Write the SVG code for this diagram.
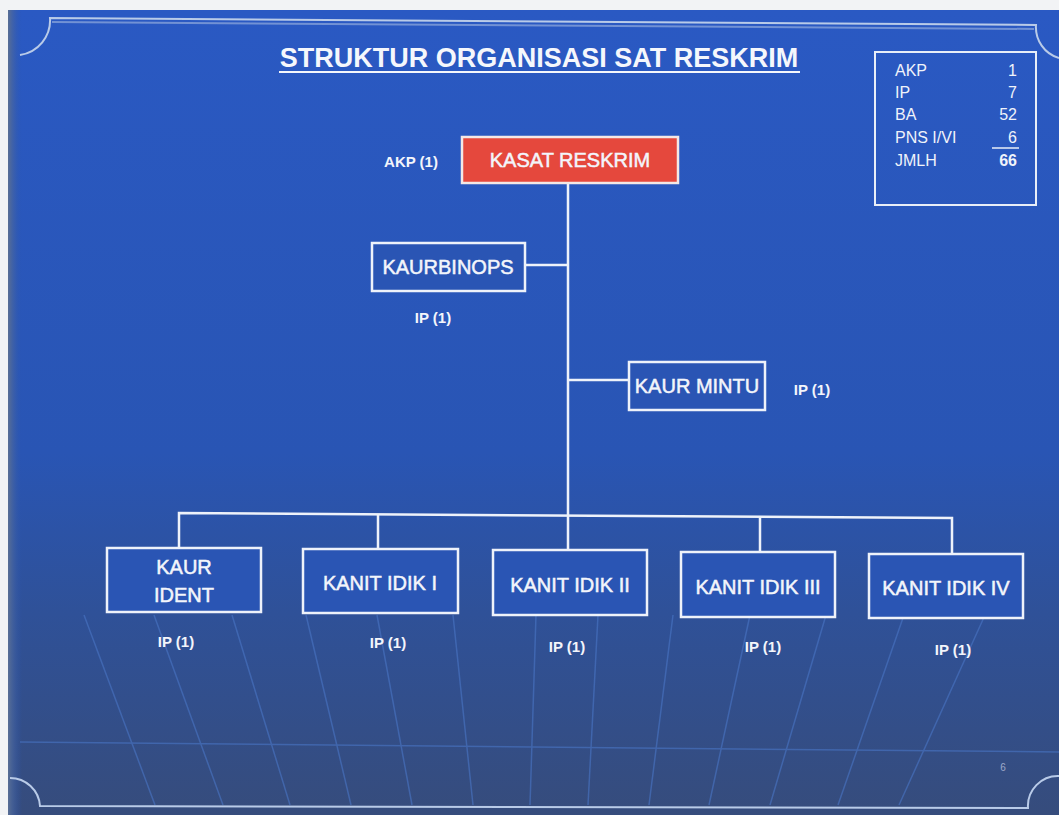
<svg xmlns="http://www.w3.org/2000/svg" width="1059" height="815" viewBox="0 0 1059 815">
<defs>
<linearGradient id="bg" x1="0" y1="0" x2="0" y2="1">
<stop offset="0" stop-color="#2a59c3"/>
<stop offset="0.55" stop-color="#2955b4"/>
<stop offset="0.75" stop-color="#2f5198"/>
<stop offset="1" stop-color="#364c7c"/>
</linearGradient>
<linearGradient id="edge" x1="0" y1="0" x2="1" y2="0">
<stop offset="0" stop-color="#5a6f94"/>
<stop offset="1" stop-color="#2a55b2" stop-opacity="0"/>
</linearGradient>
<style>
.box{fill:#2a55b4;stroke:#eef2fa;stroke-width:2.5}
.red{fill:#e5483d;stroke:#f4e8e6;stroke-width:2.5}
.lbl{font-family:"Liberation Sans",Arial,sans-serif;font-size:20px;fill:#f3f5fb;stroke:#f3f5fb;stroke-width:0.5;text-anchor:middle}
.rank{font-family:"Liberation Sans",Arial,sans-serif;font-size:15px;font-weight:bold;fill:#f3f5fb;text-anchor:middle}
.leg{font-family:"Liberation Sans",Arial,sans-serif;font-size:16px;fill:#f0f3fa}
.num{text-anchor:end}
.con{stroke:#eef2fa;stroke-width:2.5;fill:none}
.grid{stroke:#4a76c6;stroke-width:1.5;fill:none;opacity:0.6}
.frame{stroke:#b9cbe8;stroke-width:2;fill:none}
</style>
</defs>
<!-- background -->
<rect x="0" y="0" width="1059" height="815" fill="#f2f3f5"/>
<rect x="8" y="10" width="1051" height="805" fill="url(#bg)"/>
<rect x="8" y="10" width="14" height="805" fill="url(#edge)"/>
<!-- perspective grid -->
<g id="grid" class="grid">
<line x1="84" y1="615" x2="155" y2="805"/>
<line x1="154" y1="615" x2="223" y2="805"/>
<line x1="232" y1="615" x2="290" y2="805"/>
<line x1="306" y1="615" x2="351" y2="805"/>
<line x1="377" y1="615" x2="412" y2="805"/>
<line x1="453" y1="615" x2="473" y2="805"/>
<line x1="536" y1="615" x2="530" y2="805"/>
<line x1="598" y1="615" x2="588" y2="805"/>
<line x1="673" y1="615" x2="649" y2="805"/>
<line x1="750" y1="615" x2="709" y2="805"/>
<line x1="826" y1="615" x2="770" y2="805"/>
<line x1="904" y1="615" x2="838" y2="805"/>
<line x1="985" y1="615" x2="899" y2="805"/>
<line x1="20" y1="742" x2="1059" y2="752"/>
</g>
<!-- frame -->
<g id="frame">
<path class="frame" d="M20,55 A35,35 0 0 0 50,18 L1036,25 A32,32 0 0 0 1059,58"/>
<path class="frame" d="M52,22 L1034,29" stroke-opacity="0.5"/>
<path class="frame" d="M10,778 A30,30 0 0 1 40,806 L1028,808 A30,30 0 0 1 1059,776"/>
</g>
<!-- title -->
<g id="title">
<text x="539" y="67" font-family="'Liberation Sans',Arial,sans-serif" font-size="27" font-weight="bold" fill="#f5f7fc" text-anchor="middle">STRUKTUR ORGANISASI SAT RESKRIM</text>
<line x1="279" y1="72" x2="800" y2="72" stroke="#f5f7fc" stroke-width="2"/>
</g>
<!-- legend -->
<g id="legend">
<rect x="875" y="52" width="161" height="153" fill="none" stroke="#e8eef8" stroke-width="2"/>
<text class="leg" x="895" y="76">AKP</text>
<text class="leg num" x="1017" y="76">1</text>
<text class="leg" x="895" y="98">IP</text>
<text class="leg num" x="1017" y="98">7</text>
<text class="leg" x="895" y="120">BA</text>
<text class="leg num" x="1017" y="120">52</text>
<text class="leg" x="895" y="143">PNS I/VI</text>
<text class="leg num" x="1017" y="143">6</text>
<line x1="992" y1="148" x2="1019" y2="148" stroke="#e8eef8" stroke-width="1.5"/>
<text class="leg" x="895" y="166">JMLH</text>
<text class="leg num" x="1017" y="166" font-weight="bold">66</text>
</g>
<!-- connectors -->
<g id="connectors" class="con">
<line x1="568" y1="183" x2="568" y2="550"/>
<line x1="525" y1="265" x2="568" y2="265"/>
<line x1="568" y1="380" x2="629" y2="380"/>
<polyline points="179,548 179,513 952,518 952,554"/>
<line x1="378" y1="514" x2="378" y2="549"/>
<line x1="760" y1="517" x2="760" y2="552"/>
</g>
<!-- nodes -->
<g id="kasat">
<rect class="red" x="462" y="137" width="216" height="46"/>
<text class="lbl" x="570" y="167">KASAT RESKRIM</text>
<text class="rank" x="411" y="167">AKP (1)</text>
</g>
<g id="kaurbinops">
<rect class="box" x="372" y="243" width="153" height="48"/>
<text class="lbl" x="448" y="274">KAURBINOPS</text>
<text class="rank" x="433" y="323">IP (1)</text>
</g>
<g id="kaurmintu">
<rect class="box" x="629" y="362" width="136" height="48"/>
<text class="lbl" x="697" y="393">KAUR MINTU</text>
<text class="rank" x="812" y="395">IP (1)</text>
</g>
<g id="kaurident">
<rect class="box" x="107" y="548" width="154" height="64"/>
<text class="lbl" x="184" y="574">KAUR</text>
<text class="lbl" x="184" y="602">IDENT</text>
<text class="rank" x="176" y="647">IP (1)</text>
</g>
<g id="kanit1">
<rect class="box" x="303" y="549" width="155" height="64"/>
<text class="lbl" x="380" y="590">KANIT IDIK I</text>
<text class="rank" x="388" y="648">IP (1)</text>
</g>
<g id="kanit2">
<rect class="box" x="493" y="550" width="154" height="65"/>
<text class="lbl" x="570" y="592">KANIT IDIK II</text>
<text class="rank" x="567" y="652">IP (1)</text>
</g>
<g id="kanit3">
<rect class="box" x="681" y="552" width="154" height="65"/>
<text class="lbl" x="758" y="594">KANIT IDIK III</text>
<text class="rank" x="763" y="652">IP (1)</text>
</g>
<g id="kanit4">
<rect class="box" x="869" y="554" width="154" height="64"/>
<text class="lbl" x="946" y="595">KANIT IDIK IV</text>
<text class="rank" x="953" y="655">IP (1)</text>
</g>
<text x="1003" y="771" font-family="'Liberation Sans',Arial,sans-serif" font-size="10" fill="#c8d2e6" opacity="0.7" text-anchor="middle">6</text>
</svg>
